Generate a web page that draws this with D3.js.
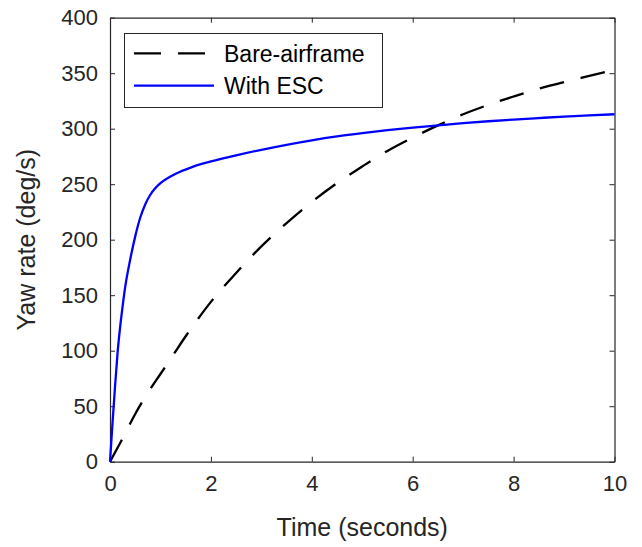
<!DOCTYPE html>
<html>
<head>
<meta charset="utf-8">
<script src="https://cdn.jsdelivr.net/npm/d3@7"></script>
<style>
  body { margin: 0; background: #fff; }
  text { font-family: "Liberation Sans", Arial, Helvetica, sans-serif; }
</style>
</head>
<body>
<div id="chart"></div>
<script>
// data

var bareTime = [0, 0.25, 0.5, 0.75, 1, 1.25, 1.5, 1.75, 2, 2.5, 3, 3.5, 4, 4.5, 5, 5.5, 6, 6.5, 7, 7.5, 8, 8.5, 9, 9.5, 10];
var bareRate = [0, 21, 43, 62, 79, 96, 113, 129, 144, 170, 194, 215, 234, 251, 266, 280, 292, 303, 313, 321.5, 329, 336, 342, 347.5, 353];

var escTime = [0, 0.05, 0.1, 0.15, 0.2, 0.25, 0.3, 0.4, 0.5, 0.6, 0.7, 0.8, 0.9, 1, 1.2, 1.4, 1.6, 1.8, 2, 2.5, 3, 3.5, 4, 4.5, 5, 5.5, 6, 6.5, 7, 7.5, 8, 8.5, 9, 9.5, 10];
var escRate = [0, 35, 68, 98, 121, 140, 157, 182, 203, 220, 232, 240.5, 246.5, 251, 257, 261.5, 265, 268, 270.5, 276, 281, 285.5, 289.5, 293, 296, 298.7, 301, 303, 305, 306.7, 308.2, 309.6, 310.9, 312, 313];

var xTicks = [0, 2, 4, 6, 8, 10];
var yTicks = [0, 50, 100, 150, 200, 250, 300, 350, 400];

var seriesNames = ["Bare-airframe", "With ESC"];

// size of chart and svg element

var w = 642,
    h = 547,
    svg = d3.select("#chart")
            .append("svg")
            .attr("width", w)
            .attr("height", h);

var plotLeft = 110, plotRight = 614.5, plotTop = 17.7, plotBottom = 461.7;
var axisColor = "#262626";

var x = d3.scaleLinear().domain([0, 10]).range([plotLeft, plotRight]);
var y = d3.scaleLinear().domain([0, 400]).range([plotBottom, plotTop]);

// axes with inward ticks on all four sides
function styleAxis(g) {
    g.select(".domain").attr("stroke", axisColor).attr("stroke-width", 1.2);
    g.selectAll(".tick line").attr("stroke", axisColor).attr("stroke-width", 1);
    g.selectAll(".tick text")
        .attr("fill", axisColor)
        .attr("font-size", "22px")
        .attr("font-family", "Liberation Sans, Arial, sans-serif");
}

svg.append("g")
    .attr("transform", "translate(0," + plotBottom + ")")
    .call(d3.axisBottom(x).tickValues(xTicks).tickFormat(d3.format("d"))
        .tickSizeInner(-5).tickSizeOuter(0).tickPadding(14))
    .call(styleAxis);

svg.append("g")
    .attr("transform", "translate(0," + plotTop + ")")
    .call(d3.axisTop(x).tickValues(xTicks).tickFormat("")
        .tickSizeInner(-5).tickSizeOuter(0))
    .call(styleAxis);

svg.append("g")
    .attr("transform", "translate(" + plotLeft + ",0)")
    .call(d3.axisLeft(y).tickValues(yTicks).tickFormat(d3.format("d"))
        .tickSizeInner(-5).tickSizeOuter(0).tickPadding(12))
    .call(styleAxis);

svg.append("g")
    .attr("transform", "translate(" + plotRight + ",0)")
    .call(d3.axisRight(y).tickValues(yTicks).tickFormat("")
        .tickSizeInner(-5).tickSizeOuter(0))
    .call(styleAxis);

// data lines
var line = d3.line()
    .x(function(d) { return x(d[0]); })
    .y(function(d) { return y(d[1]); })
    .curve(d3.curveMonotoneX);

svg.append("path")
    .datum(d3.zip(bareTime, bareRate))
    .attr("fill", "none")
    .attr("stroke", "#000")
    .attr("stroke-width", 2.3)
    .attr("stroke-dasharray", "25,17")
    .attr("d", line);

svg.append("path")
    .datum(d3.zip(escTime, escRate))
    .attr("fill", "none")
    .attr("stroke", "#0000ff")
    .attr("stroke-width", 2.3)
    .attr("d", line);

// axis labels
svg.append("text")
    .attr("x", (plotLeft + plotRight) / 2)
    .attr("y", 536)
    .attr("text-anchor", "middle")
    .attr("font-size", "25px")
    .attr("fill", axisColor)
    .text("Time (seconds)");

svg.append("text")
    .attr("transform", "translate(35," + ((plotTop + plotBottom) / 2) + ") rotate(-90)")
    .attr("text-anchor", "middle")
    .attr("font-size", "25px")
    .attr("fill", axisColor)
    .text("Yaw rate (deg/s)");

// legend
var legend = svg.append("g");
legend.append("rect")
    .attr("x", 124.5).attr("y", 33.5)
    .attr("width", 258).attr("height", 74)
    .attr("fill", "#fff")
    .attr("stroke", axisColor)
    .attr("stroke-width", 1);

var rowY = [53.3, 85.7];
legend.append("line")
    .attr("x1", 134).attr("x2", 214)
    .attr("y1", rowY[0]).attr("y2", rowY[0])
    .attr("stroke", "#000").attr("stroke-width", 2.3)
    .attr("stroke-dasharray", "27,17");
legend.append("line")
    .attr("x1", 134).attr("x2", 214)
    .attr("y1", rowY[1]).attr("y2", rowY[1])
    .attr("stroke", "#0000ff").attr("stroke-width", 2.3);

seriesNames.forEach(function(name, i) {
    legend.append("text")
        .attr("x", 224)
        .attr("y", rowY[i])
        .attr("dy", "0.36em")
        .attr("font-size", "23px")
        .attr("fill", "#000")
        .text(name);
});
</script>
</body>
</html>
